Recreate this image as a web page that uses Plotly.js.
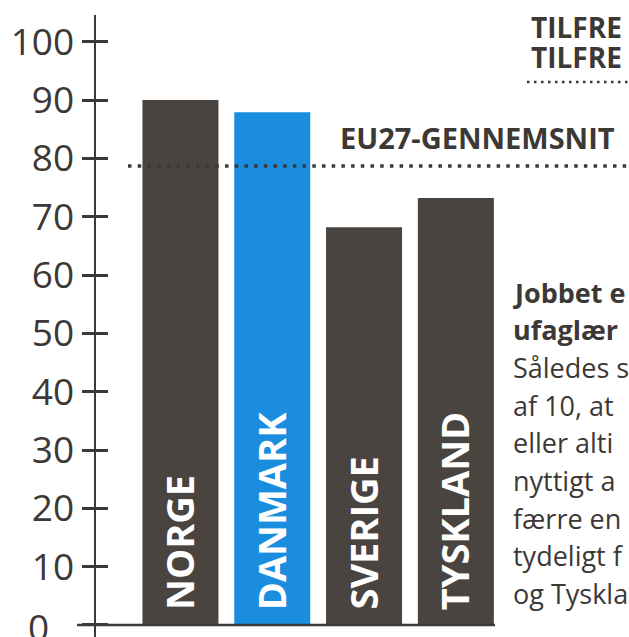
<!DOCTYPE html>
<html>
<head>
<meta charset="utf-8">
<script src="https://cdn.plot.ly/plotly-3.0.1.min.js"></script>
<style>html,body{margin:0;padding:0;background:#fff;}#chart{width:629px;height:637px;}</style>
</head>
<body>
<div id="chart"></div>
<script>
// ---- data ----
const countries = ["NORGE", "DANMARK", "SVERIGE", "TYSKLAND"];
const values = [90, 87.9, 68.2, 73.2];
const barColors = ["#4a4441", "#1a8ddf", "#4a4441", "#4a4441"];
const euAverage = 78.7;
const euLabel = "EU27-GENNEMSNIT";
const yTicks = [0, 10, 20, 30, 40, 50, 60, 70, 80, 90, 100];
const headerLines = ["TILFRE", "TILFRE"];
const bodyLines = ["Jobbet e", "ufaglær", "Således s", "af 10, at", "eller alti", "nyttigt a", "færre en", "tydeligt f", "og Tyskla"];
const bodyBold = [true, true, false, false, false, false, false, false, false];

// ---- layout helpers ----
const W = 629, H = 637;
const M = {l: 96, r: 0, t: 15, b: 0};
const pw = W - M.l - M.r, ph = H - M.t - M.b;
const px = x => (x - M.l) / pw;
const py = y => 1 - (y - M.t) / ph;
const ink = "#3c3836";
const tickFont = {family: "Open Sans", size: 37, color: ink};

const yRange = [-2.06, 104.58];
const xRange = [-0.92, 4.886];

const trace = {
  type: "bar",
  x: countries,
  y: values,
  marker: {color: barColors, line: {width: 0}},
  hoverinfo: "none"
};

const annotations = [];
countries.forEach((c, i) => {
  annotations.push({
    x: c, y: 0, xref: "x", yref: "y",
    text: c, showarrow: false, textangle: -90,
    xanchor: "center", yanchor: "bottom", yshift: 13, xshift: -1,
    font: {family: "Open Sans", size: 38, color: "#ffffff", weight: 700}
  });
});
// zero label (sits at the bottom edge of the figure)
annotations.push({
  x: px(51), y: yTicks[0], xref: "paper", yref: "y",
  text: String(yTicks[0]), showarrow: false,
  xanchor: "right", yanchor: "middle", yshift: -2,
  font: tickFont
});
annotations.push({
  x: px(338), y: py(137), xref: "paper", yref: "paper",
  text: "<b>" + euLabel + "</b>", showarrow: false,
  xanchor: "left", yanchor: "middle",
  font: {family: "Open Sans", size: 29, color: ink}
});
headerLines.forEach((t, i) => {
  annotations.push({
    x: px(529), y: py(27 + i * 30), xref: "paper", yref: "paper",
    text: "<b>" + t + "</b>", showarrow: false, height: 26,
    xanchor: "left", yanchor: "middle",
    font: {family: "Open Sans", size: 28, color: ink}
  });
});
bodyLines.forEach((t, i) => {
  annotations.push({
    x: px(511), y: py(292 + i * 37.7), xref: "paper", yref: "paper",
    text: bodyBold[i] ? "<b>" + t + "</b>" : t, showarrow: false,
    xanchor: "left", yanchor: "middle",
    font: {family: "Open Sans", size: 27, color: ink}
  });
});

const layout = {
  width: W, height: H,
  margin: M,
  paper_bgcolor: "#ffffff", plot_bgcolor: "rgba(0,0,0,0)",
  showlegend: false,
  bargap: 0.172,
  xaxis: {
    range: xRange, showticklabels: false, ticks: "", showgrid: false,
    zeroline: false, showline: false, fixedrange: true
  },
  yaxis: {
    range: yRange, tickvals: yTicks, ticktext: yTicks.map(v => v === 0 ? "" : String(v)),
    ticks: "outside", ticklen: 12, tickwidth: 3, tickcolor: ink,
    showline: true, linecolor: ink, linewidth: 2.5,
    showgrid: false, zeroline: false, ticklabelstandoff: 0,
    tickfont: tickFont, fixedrange: true
  },
  yaxis2: {
    range: yRange, overlaying: "y", side: "left", tickvals: yTicks,
    ticks: "inside", ticklen: 12, tickwidth: 3, tickcolor: ink,
    showticklabels: false, showgrid: false, zeroline: false, showline: false, fixedrange: true
  },
  shapes: [
    {type: "line", xref: "paper", yref: "y", x0: px(77), x1: px(495), y0: 0, y1: 0,
     line: {color: ink, width: 2.5}, layer: "above"},
    {type: "line", xref: "paper", yref: "y", x0: px(128), x1: 1, y0: euAverage, y1: euAverage,
     line: {color: ink, width: 3.5, dash: "3.5px,6.2px"}, layer: "above"},
    {type: "line", xref: "paper", yref: "paper", x0: px(527), x1: 1, y0: py(82), y1: py(82),
     line: {color: ink, width: 2.5, dash: "2.5px,4.5px"}, layer: "above"}
  ],
  annotations: annotations
};

const trace2 = {type: "scatter", x: [], y: [], yaxis: "y2", hoverinfo: "none"};

Plotly.newPlot("chart", [trace, trace2], layout, {displayModeBar: false, staticPlot: true});
</script>
</body>
</html>
